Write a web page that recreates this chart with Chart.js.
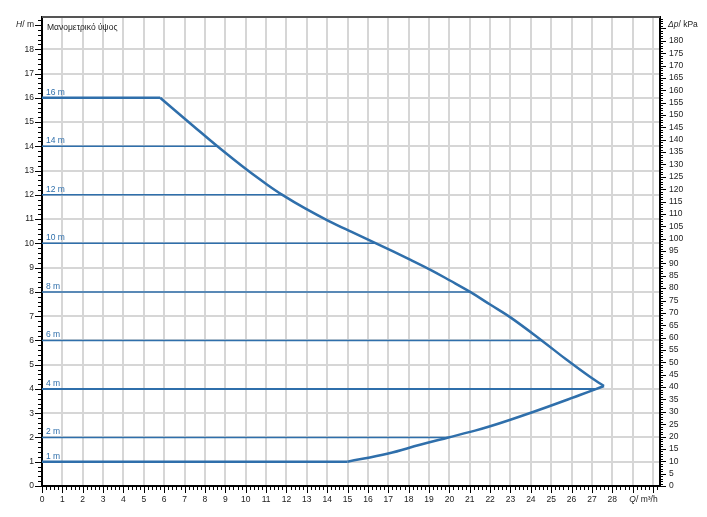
<!DOCTYPE html>
<html>
<head>
<meta charset="utf-8">
<script src="https://cdn.jsdelivr.net/npm/chart.js@4"></script>
<style>
  html, body { margin: 0; padding: 0; background: #fff; }
  #wrap { width: 707px; height: 517px; }
</style>
</head>
<body>
<div id="wrap"><canvas id="pumpChart" width="707" height="517"></canvas></div>
<script>
// envelope: falling branch from the 16 m corner to the tip, rising branch from the tip to the 1 m corner
const upperQ = [5.8, 6.46, 7.44, 8.61, 10.06, 11.04, 11.8, 12.92, 14.06, 15.2, 16.4, 18.07, 19.05, 20.03, 21.02, 22.0, 22.98, 24.53, 25.76, 26.9, 27.59];
const upperH = [16, 15.53, 14.83, 14, 13.03, 12.43, 12, 11.44, 10.93, 10.47, 10, 9.33, 8.92, 8.47, 8, 7.48, 6.96, 6, 5.2, 4.5, 4.12];
const lowerQ = [27.59, 26.41, 24.0, 22.0, 21.02, 19.95, 18.56, 17.0, 15.0];
const lowerH = [4.12, 3.75, 3.02, 2.46, 2.23, 2, 1.7, 1.34, 1];

// constant head lines (m) and where they end (m³/h)
const lineLevels = [16, 14, 12, 10, 8, 6, 4, 2, 1];
const lineEndQ = [5.8, 8.61, 11.8, 16.4, 21.02, 24.53, 27.25, 19.95, 15.0];

const Q_MAX = 30.34;
const H_MAX = 19.33;
const KPA_PER_M = 9.81;
const xTicks = [0, 1, 2, 3, 4, 5, 6, 7, 8, 9, 10, 11, 12, 13, 14, 15, 16, 17, 18, 19, 20, 21, 22, 23, 24, 25, 26, 27, 28, 29, 30];
const hTicks = [0, 1, 2, 3, 4, 5, 6, 7, 8, 9, 10, 11, 12, 13, 14, 15, 16, 17, 18];
const kpaTicks = [0, 5, 10, 15, 20, 25, 30, 35, 40, 45, 50, 55, 60, 65, 70, 75, 80, 85, 90, 95, 100, 105, 110, 115, 120, 125, 130, 135, 140, 145, 150, 155, 160, 165, 170, 175, 180];

const BLUE = '#2f6fab';
const GRID = '#d6d6d6';
const FONT = '"Liberation Sans", Arial, sans-serif';

const datasets = lineLevels.map((h, i) => ({
    data: [{ x: 0, y: h }, { x: lineEndQ[i], y: h }],
    borderColor: BLUE,
    borderWidth: (h === 16 || h === 1) ? 2.5 : (h === 4 ? 2 : 1.5),
    pointRadius: 0,
    showLine: true
}));
datasets.push({
    data: upperQ.map((q, i) => ({ x: q, y: upperH[i] })),
    borderColor: BLUE,
    borderWidth: 2.5,
    pointRadius: 0,
    showLine: true,
    tension: 0.4
});
datasets.push({
    data: lowerQ.map((q, i) => ({ x: q, y: lowerH[i] })),
    borderColor: BLUE,
    borderWidth: 2.5,
    pointRadius: 0,
    showLine: true,
    tension: 0.4
});

// writes "italic part" + "normal part" with given alignment
function axisName(ctx, ital, rest, x, y, align) {
    ctx.font = 'italic 8.5px ' + FONT;
    const w1 = ctx.measureText(ital).width;
    ctx.font = '8.5px ' + FONT;
    const w2 = ctx.measureText(rest).width;
    let x0 = x;
    if (align === 'right') x0 = x - w1 - w2;
    if (align === 'center') x0 = x - (w1 + w2) / 2;
    ctx.textAlign = 'left';
    ctx.font = 'italic 8.5px ' + FONT;
    ctx.fillText(ital, x0, y);
    ctx.font = '8.5px ' + FONT;
    ctx.fillText(rest, x0 + w1, y);
}

// axis extras: minor ticks, top border, texts
const decor = {
    id: 'decor',
    afterDraw(chart) {
        const { ctx, chartArea: a, scales: { x, y, y2 } } = chart;
        ctx.save();
        ctx.strokeStyle = '#555';
        ctx.lineWidth = 2;
        ctx.beginPath();
        ctx.moveTo(a.left, a.top);
        ctx.lineTo(a.right, a.top);
        ctx.stroke();

        ctx.strokeStyle = '#000';
        ctx.lineWidth = 1;
        ctx.beginPath();
        for (let i = 0; i / 5 <= Q_MAX; i++) {
            const px = Math.round(x.getPixelForValue(i / 5)) + 0.5;
            ctx.moveTo(px, a.bottom);
            ctx.lineTo(px, a.bottom + (i % 5 === 0 ? 7 : 4));
        }
        for (let i = 0; i / 5 <= H_MAX; i++) {
            const py = Math.round(y.getPixelForValue(i / 5)) + 0.5;
            ctx.moveTo(a.left, py);
            ctx.lineTo(a.left - (i % 5 === 0 ? 7 : 4), py);
        }
        for (let i = 0; i <= H_MAX * KPA_PER_M; i++) {
            const py = Math.round(y2.getPixelForValue(i)) + 0.5;
            ctx.moveTo(a.right, py);
            ctx.lineTo(a.right + (i % 5 === 0 ? 6 : 3), py);
        }
        ctx.stroke();

        ctx.fillStyle = '#222';
        ctx.textBaseline = 'middle';
        ctx.textAlign = 'left';
        ctx.font = '8.5px ' + FONT;
        ctx.fillText('Μανομετρικό ύψος', a.left + 5, a.top + 11);
        axisName(ctx, 'Δp', '/ kPa', a.right + 8, y.getPixelForValue(19), 'left');
        axisName(ctx, 'H', '/ m', a.left - 8, y.getPixelForValue(19), 'right');
        axisName(ctx, 'Q', '/ m³/h', x.getPixelForValue(29.53), a.bottom + 14, 'center');

        ctx.fillStyle = BLUE;
        ctx.font = '8.5px ' + FONT;
        ctx.textAlign = 'left';
        ctx.textBaseline = 'alphabetic';
        lineLevels.forEach(h => {
            ctx.fillText(h + ' m', a.left + 4, y.getPixelForValue(h) - 3);
        });
        ctx.restore();
    }
};

const tickFont = { family: FONT, size: 8.5 };

new Chart(document.getElementById('pumpChart'), {
    type: 'scatter',
    data: { datasets },
    plugins: [decor],
    options: {
        responsive: false,
        animation: false,
        layout: { padding: { top: 17, left: 0, right: 0, bottom: 0 } },
        plugins: { legend: { display: false }, tooltip: { enabled: false } },
        scales: {
            x: {
                type: 'linear',
                min: 0,
                max: Q_MAX,
                afterBuildTicks: s => { s.ticks = xTicks.map(v => ({ value: v })); },
                afterFit: s => { s.height = 31; },
                ticks: {
                    font: tickFont,
                    color: '#222',
                    padding: 9,
                    maxRotation: 0,
                    autoSkip: false,
                    callback: v => (v <= 28 ? String(v) : '')
                },
                grid: { color: GRID, lineWidth: 2, drawTicks: false },
                border: { color: '#000', width: 2 }
            },
            y: {
                type: 'linear',
                position: 'left',
                min: 0,
                max: H_MAX,
                afterBuildTicks: s => { s.ticks = hTicks.map(v => ({ value: v })); },
                afterFit: s => { s.width = 42; },
                ticks: { font: tickFont, color: '#222', padding: 8, autoSkip: false },
                grid: { color: GRID, lineWidth: 2, drawTicks: false },
                border: { color: '#000', width: 2 }
            },
            y2: {
                type: 'linear',
                position: 'right',
                min: 0,
                max: H_MAX * KPA_PER_M,
                afterBuildTicks: s => { s.ticks = kpaTicks.map(v => ({ value: v })); },
                afterFit: s => { s.width = 47; },
                ticks: { font: tickFont, color: '#222', padding: 9, autoSkip: false },
                grid: { display: false, drawTicks: false },
                border: { color: '#000', width: 2 }
            }
        }
    }
});
</script>
</body>
</html>
